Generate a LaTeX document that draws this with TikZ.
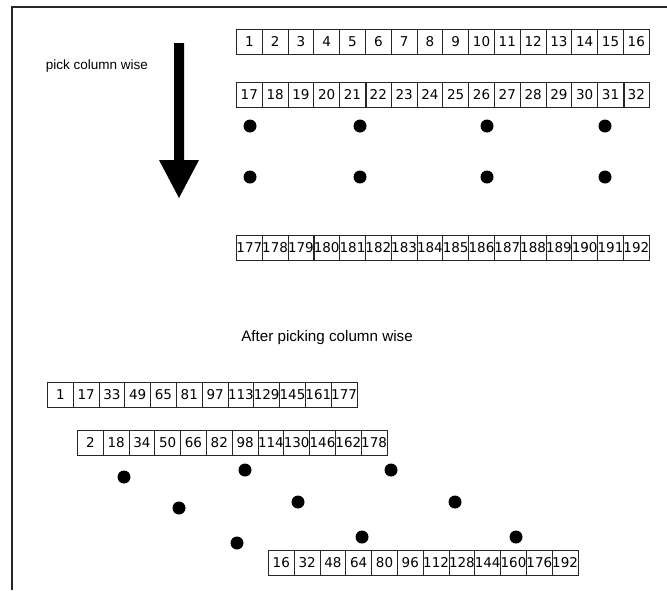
\documentclass[tikz,border=0pt]{standalone}
\usepackage{fontspec}
\setmainfont{Liberation Sans}
\newfontfamily\cellfont{DejaVu Sans}
\begin{document}
\begin{tikzpicture}[x=1pt,y=-1pt,
  cell/.style={draw=black!85, line width=0.8pt, minimum width=25.8pt,
    minimum height=25pt, inner sep=0pt, anchor=north west,
    font=\cellfont\fontsize{13.5}{13.5}\selectfont},
  blob/.style={circle, fill=black, minimum size=13pt, inner sep=0pt},
  caption/.style={inner sep=0pt},
  frameline/.style={line width=2pt, draw=black!85},
  seam/.style={line width=1.6pt, draw=black!85}]
\useasboundingbox (0,0) rectangle (667,590);

% open frame: top and left edges
\draw[frameline] (12,590) -- (12,7) -- (667,7);

% direction of reading
\node[caption, font=\fontsize{13.5}{15}\selectfont] (pick) at (97,66) {pick column wise};
\fill (174,43) -- (184,43) -- (184,160) -- (199,160) -- (179,198)
      -- (159,160) -- (174,160) -- cycle;

% source array, one row of 16 per line
\foreach \v [count=\i] in {1,...,16}
  \node[cell] (a\i) at ({236+(\i-1)*25.8},29) {\v};
\foreach \v [count=\i] in {17,...,32}
  \node[cell] (b\i) at ({236+(\i-1)*25.8},82) {\v};
\foreach \v [count=\i] in {177,...,192}
  \node[cell] (c\i) at ({236+(\i-1)*25.8},235) {\v};
\draw[seam] (b5.north east) -- (b5.south east);
\draw[seam] (b15.north east) -- (b15.south east);
\draw[seam] (c3.north east) -- (c3.south east);

% elided rows
\foreach \x [count=\i] in {250,360,487,605} {
  \node[blob] (u\i) at (\x,126) {};
  \node[blob] (v\i) at (\x,177) {};
}

\node[caption, font=\fontsize{15.2}{17}\selectfont] (after) at (327,338) {After picking column wise};

% result, one column per line
\foreach \v [count=\i] in {1,17,33,49,65,81,97,113,129,145,161,177}
  \node[cell] (p\i) at ({47+(\i-1)*25.8},382) {\v};
\foreach \v [count=\i] in {2,18,34,50,66,82,98,114,130,146,162,178}
  \node[cell] (q\i) at ({77+(\i-1)*25.8},430) {\v};
\foreach \v [count=\i] in {16,32,48,64,80,96,112,128,144,160,176,192}
  \node[cell] (r\i) at ({268+(\i-1)*25.8},550) {\v};

% elided lines of the result
\node[blob] (d1) at (124,477) {};
\node[blob] (d2) at (179,508) {};
\node[blob] (d3) at (237,543) {};
\node[blob] (d4) at (245,470) {};
\node[blob] (d5) at (298,502) {};
\node[blob] (d6) at (362,537) {};
\node[blob] (d7) at (391,470) {};
\node[blob] (d8) at (455,502) {};
\node[blob] (d9) at (516,537) {};
\end{tikzpicture}
\end{document}
